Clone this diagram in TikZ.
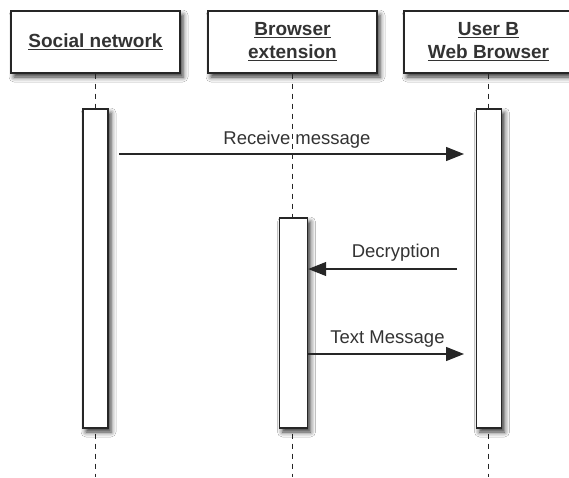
\documentclass[tikz,border=0pt]{standalone}
\usepackage{fontspec}
\setmainfont{Liberation Sans}
\usetikzlibrary{arrows.meta,shadows.blur}
\tikzset{
  head/.style={draw=black!85, line width=1.4pt, fill=white, minimum width=169pt, minimum height=62pt, inner sep=0pt, align=center,
    font=\bfseries\fontsize{19}{23}\selectfont, text=black!80,
    blur shadow={shadow xshift=3pt, shadow yshift=-4pt, shadow blur radius=5pt, shadow opacity=80}},
  bar/.style={draw=black!85, line width=1.4pt, fill=white, minimum width=25pt, inner sep=0pt,
    blur shadow={shadow xshift=3pt, shadow yshift=-4pt, shadow blur radius=5pt, shadow opacity=80}},
  life/.style={draw=black!85, line width=1.3pt, dash pattern=on 5pt off 5pt},
  msg/.style={draw=black!85, line width=1.2pt, -{Triangle[length=18pt,width=14pt]}},
  lbl/.style={anchor=base, font=\fontsize{18.5}{22}\selectfont, text=black!80, inner sep=0pt}
}
\begin{document}
\begin{tikzpicture}[x=1pt,y=-1pt]
\useasboundingbox[fill=white] (0,0) rectangle (569,477);
% lifeline end points
\coordinate (e1) at (95.5,477);
\coordinate (e2) at (292.5,477);
\coordinate (e3) at (488.5,477);
% header boxes
\node[head] (h1) at (95.5,42) {\underline{Social network}};
\node[head] (h2) at (292.5,42) {\underline{Browser}\\\underline{extension}};
\node[head] (h3) at (488.5,42) {\underline{User B}\\\underline{Web Browser}};
% lifelines
\draw[life] (h1.south) -- (e1);
\draw[life] (h2.south) -- (e2);
\draw[life] (h3.south) -- (e3);
% activation bars
\node[bar, minimum height=319pt] (b1) at (95.5,268.5) {};
\node[bar, minimum width=28pt, minimum height=210pt] (b2) at (293.5,323) {};
\node[bar, minimum height=319pt] (b3) at (489,268.5) {};
% message end points
\coordinate (r1) at (119,154);
\coordinate (r2) at (464,154);
\coordinate (d1) at (457,269);
\coordinate (d2) at (b2.east |- d1);
\coordinate (t1) at (b2.east |- 0,354);
\coordinate (t2) at (464,354);
% messages
\draw[msg] (r1) -- (r2);
\draw[msg] (d1) -- (d2);
\draw[msg] (t1) -- (t2);
% labels
\node[lbl] (l1) at (297,144) {Receive message};
\node[lbl] (l2) at (396,257) {Decryption};
\node[lbl] (l3) at (387.5,343) {Text Message};
\end{tikzpicture}
\end{document}
